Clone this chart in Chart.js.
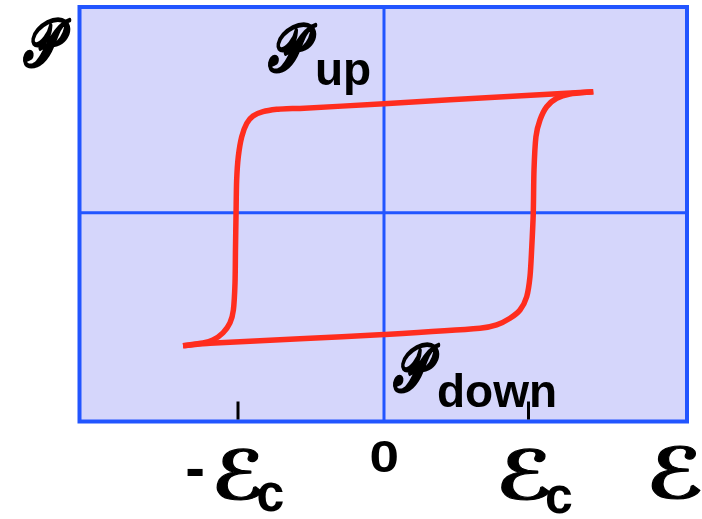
<!DOCTYPE html>
<html>
<head>
<meta charset="utf-8">
<script src="https://cdn.jsdelivr.net/npm/chart.js@4.4.1/dist/chart.umd.min.js"></script>
<style>
  html, body { margin: 0; padding: 0; background: #ffffff; }
  #wrap { width: 702px; height: 519px; position: relative; }
</style>
</head>
<body>
<div id="wrap"><canvas id="c" width="702" height="519"></canvas></div>
<script>
// ---- data (field E in units of Ec, polarization in units of P_up at E=0) ----
const downBranchE = [1.405, 0.443, 0.0, -0.564, -0.653, -0.720, -0.812, -0.879, -0.921, -0.955, -0.978, -0.989, -0.993, -0.997, -1.0, -1.011, -1.034, -1.081, -1.148, -1.215, -1.349];
const downBranchP = [1.110, 1.036, 1.0, 0.956, 0.954, 0.949, 0.927, 0.887, 0.820, 0.697, 0.514, 0.300, 0.0, -0.342, -0.645, -0.893, -1.012, -1.103, -1.168, -1.195, -1.220];
const upBranchE = [-1.349, -1.168, -0.564, 0.0, 0.644, 0.756, 0.846, 0.913, 0.958, 0.980, 0.991, 1.002, 1.007, 1.020, 1.047, 1.092, 1.159, 1.248, 1.405];
const upBranchP = [-1.220, -1.198, -1.157, -1.118, -1.061, -1.030, -0.969, -0.893, -0.771, -0.587, -0.342, -0.006, 0.392, 0.697, 0.850, 0.972, 1.050, 1.089, 1.110];

const xRange = [-2.044, 2.034];
const yRange = [-1.916, 1.887];

// tick labels on the field axis
const tickValues = [-0.98, 0, 0.97];
const tickMain   = ['\u2130', '0', '\u2130'];
const tickPrefix = ['-', '', ''];
const tickSub    = ['c', '', 'c'];
const axisNameX = '\u2130';
const axisNameY = '\uD835\uDCAB';
const stateSub = ['up', 'down'];

const pts = (xs, ys) => xs.map((x, i) => ({ x: x, y: ys[i] }));

// ---- styling / layout ----
const COL_BG = '#d5d6fb';
const COL_AX = '#2255ff';
const COL_LOOP = '#ff2d1e';
const SCRIPT = "'DejaVu Sans', 'Noto Sans', serif";
const SANS = "'Liberation Sans', Arial, sans-serif";

// draw text so that its ink fits a given box (left, top, width, height)
function drawFit(ctx, text, font, box, stroke) {
  ctx.save();
  ctx.font = font;
  ctx.textAlign = 'left';
  ctx.textBaseline = 'alphabetic';
  const m = ctx.measureText(text);
  const w = m.actualBoundingBoxLeft + m.actualBoundingBoxRight;
  const h = m.actualBoundingBoxAscent + m.actualBoundingBoxDescent;
  const sx = box[2] / w, sy = box[3] / h;
  ctx.translate(box[0], box[1]);
  ctx.scale(sx, sy);
  ctx.fillStyle = '#000';
  ctx.fillText(text, m.actualBoundingBoxLeft, m.actualBoundingBoxAscent);
  if (stroke) {
    ctx.strokeStyle = '#000';
    ctx.lineJoin = 'round';
    ctx.lineWidth = stroke / ((sx + sy) / 2);
    ctx.strokeText(text, m.actualBoundingBoxLeft, m.actualBoundingBoxAscent);
  }
  ctx.restore();
}

const SCRIPT_FONT = 'italic bold 100px ' + SCRIPT;
const SANS_FONT = 'bold 100px ' + SANS;

const decor = {
  id: 'decor',
  beforeDatasetsDraw(chart) {
    const { ctx, chartArea: a, scales: { x, y } } = chart;
    ctx.save();
    ctx.fillStyle = COL_BG;
    ctx.fillRect(a.left, a.top, a.right - a.left, a.bottom - a.top);
    ctx.strokeStyle = COL_AX;
    ctx.lineWidth = 3;
    const x0 = x.getPixelForValue(0), y0 = y.getPixelForValue(0);
    ctx.beginPath();
    ctx.moveTo(a.left, y0); ctx.lineTo(a.right, y0);
    ctx.moveTo(x0, a.top); ctx.lineTo(x0, a.bottom);
    ctx.stroke();
    ctx.restore();
  },
  afterDatasetsDraw(chart) {
    const { ctx, chartArea: a, scales: { x, y } } = chart;
    ctx.save();
    // frame
    ctx.strokeStyle = COL_AX;
    ctx.lineWidth = 4;
    ctx.strokeRect(a.left, a.top, a.right - a.left, a.bottom - a.top);
    // small tick marks at +/- Ec
    ctx.strokeStyle = '#000';
    ctx.lineWidth = 3;
    tickValues.forEach((v, i) => {
      if (!tickSub[i]) return;
      const px = x.getPixelForValue(v);
      ctx.beginPath();
      ctx.moveTo(px, a.bottom - 20); ctx.lineTo(px, a.bottom - 2);
      ctx.stroke();
    });
    ctx.restore();

    const B = a.bottom;
    // tick labels
    tickValues.forEach((v, i) => {
      const px = x.getPixelForValue(v);
      if (!tickSub[i]) {
        drawFit(ctx, tickMain[i], SANS_FONT, [px - 13, B + 19, 26, 32], 0);
        return;
      }
      if (tickPrefix[i]) {
        drawFit(ctx, tickPrefix[i], SANS_FONT, [px - 51, B + 48, 16, 7], 0);
        drawFit(ctx, tickMain[i], SCRIPT_FONT, [px - 21, B + 27, 45, 52], 1.2);
        drawFit(ctx, tickSub[i], SANS_FONT, [px + 20, B + 61, 25, 29], 0);
      } else {
        drawFit(ctx, tickMain[i], SCRIPT_FONT, [px - 27, B + 27, 48, 52], 1.2);
        drawFit(ctx, tickSub[i], SANS_FONT, [px + 18, B + 64, 25, 28], 0);
      }
    });
    // axis names
    drawFit(ctx, axisNameX, SCRIPT_FONT, [a.right - 35, B + 24, 48, 54], 1.2);
    drawFit(ctx, axisNameY, SCRIPT_FONT, [a.left - 57, 18, 48, 50], 1.5);
    // P_up and P_down
    const y0 = y.getPixelForValue(0);
    const x0 = x.getPixelForValue(0);
    drawFit(ctx, axisNameY, SCRIPT_FONT, [x0 - 116, y0 - 190, 49, 50], 1.5);
    drawFit(ctx, axisNameY, SCRIPT_FONT, [x0 + 9, y0 + 130, 47, 50], 1.5);
    ctx.save();
    ctx.fillStyle = '#000';
    ctx.font = 'bold 46px ' + SANS;
    ctx.textAlign = 'left';
    ctx.fillText(stateSub[0], x0 - 69, y0 - 128);
    ctx.fillText(stateSub[1], x0 + 53, y0 + 194);
    ctx.restore();
  }
};

new Chart(document.getElementById('c'), {
  type: 'scatter',
  data: {
    datasets: [
      { data: pts(downBranchE, downBranchP), showLine: true, borderColor: COL_LOOP, borderWidth: 5.5, pointRadius: 0, tension: 0.25, borderCapStyle: 'butt', borderJoinStyle: 'round', fill: false },
      { data: pts(upBranchE, upBranchP), showLine: true, borderColor: COL_LOOP, borderWidth: 5.5, pointRadius: 0, tension: 0.25, borderCapStyle: 'butt', borderJoinStyle: 'round', fill: false }
    ]
  },
  options: {
    responsive: false,
    animation: false,
    events: [],
    layout: { padding: { left: 79.5, right: 15, top: 7, bottom: 97.5 } },
    plugins: { legend: { display: false }, tooltip: { enabled: false } },
    scales: {
      x: { type: 'linear', min: xRange[0], max: xRange[1], display: false },
      y: { type: 'linear', min: yRange[0], max: yRange[1], display: false }
    }
  },
  plugins: [decor]
});
</script>
</body>
</html>
